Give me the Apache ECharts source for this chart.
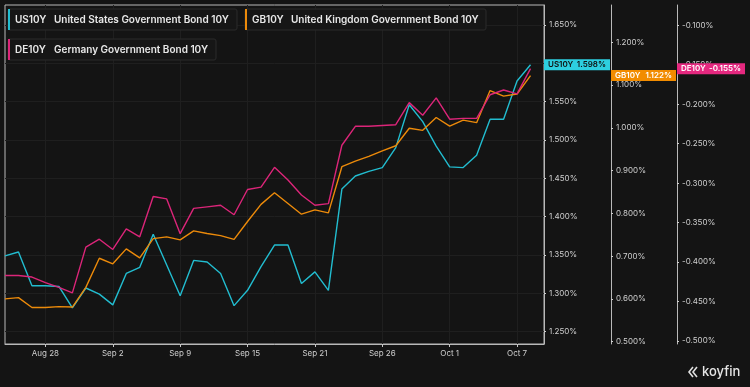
<!DOCTYPE html>
<html>
<head>
<meta charset="utf-8">
<script src="https://cdn.jsdelivr.net/npm/echarts@6/dist/echarts.min.js"></script>
<style>
html,body{margin:0;padding:0;background:#141414;}
#chart{width:750px;height:387px;}
</style>
</head>
<body>
<div id="chart"></div>
<script>
const categories = ['Aug 25','Aug 26','Aug 27','Aug 28','Aug 29','Aug 30','Aug 31','Sep 1','Sep 2','Sep 3',
  'Sep 6','Sep 7','Sep 8','Sep 9','Sep 10','Sep 12','Sep 13','Sep 14','Sep 15','Sep 16',
  'Sep 17','Sep 19','Sep 20','Sep 21','Sep 22','Sep 23','Sep 24','Sep 25','Sep 26','Sep 27',
  'Sep 28','Sep 29','Sep 30','Oct 1','Oct 2','Oct 4','Oct 5','Oct 6','Oct 7','Oct 8','Oct 9'];
const tickLabels = ['Aug 28','Sep 2','Sep 9','Sep 15','Sep 21','Sep 26','Oct 1','Oct 7'];

const us10y = [1.349,1.354,1.310,1.310,1.309,1.281,1.307,1.299,1.285,1.326,
  1.334,1.377,1.337,1.297,1.343,1.341,1.326,1.284,1.304,1.335,
  1.363,1.363,1.313,1.328,1.304,1.436,1.453,1.459,1.464,1.490,
  1.546,1.524,1.492,1.465,1.464,1.480,1.527,1.527,1.577,1.598];
const gb10y = [0.600,0.603,0.580,0.580,0.582,0.581,0.627,0.695,0.682,0.717,
  0.696,0.741,0.745,0.738,0.759,0.753,0.748,0.739,0.781,0.821,
  0.848,0.823,0.798,0.808,0.801,0.909,0.922,0.933,0.946,0.958,
  0.999,0.994,1.024,1.004,1.018,1.012,1.087,1.074,1.079,1.122];
const de10y = [-0.417,-0.417,-0.419,-0.426,-0.432,-0.439,-0.381,-0.371,-0.384,-0.358,
  -0.368,-0.317,-0.320,-0.364,-0.332,-0.330,-0.328,-0.340,-0.308,-0.305,
  -0.280,-0.296,-0.315,-0.328,-0.326,-0.252,-0.228,-0.228,-0.227,-0.226,
  -0.198,-0.214,-0.192,-0.219,-0.218,-0.218,-0.188,-0.182,-0.187,-0.155];

const usTicks = [1.25,1.30,1.35,1.40,1.45,1.50,1.55,1.60,1.65];
const gbTicks = [0.5,0.6,0.7,0.8,0.9,1.0,1.1,1.2];
const deTicks = [-0.5,-0.45,-0.4,-0.35,-0.3,-0.25,-0.2,-0.15,-0.1];

const seriesNames = ['US10Y','GB10Y','DE10Y'];
const seriesTitles = ['United States Government Bond 10Y','United Kingdom Government Bond 10Y','Germany Government Bond 10Y'];
const lineColors = ['#22bdd0','#ec8a0a','#dc2579'];
const badgeColors = ['#2dcfe0','#f28c00','#e5287f'];

const FONT = 'Inter, "Noto Sans", sans-serif';
const showTick = (i) => tickLabels.indexOf(categories[i]) >= 0;
const fmt = (v) => v.toFixed(3) + '%';

function yAx(min, max, ticks, offset, split) {
  return {
    type: 'value', position: 'right', offset: offset, min: min, max: max,
    axisLine: {show: true, lineStyle: {color: '#b9b9b9', width: 1}},
    axisTick: {show: true, length: 2, customValues: ticks, lineStyle: {color: '#d0d0d0'}},
    axisLabel: {show: true, customValues: ticks, formatter: fmt, color: '#cfcfcf',
      fontSize: 8, fontFamily: FONT, margin: 5},
    splitLine: {show: split, lineStyle: {color: '#1f1f1f', width: 1}}
  };
}

const chart = echarts.init(document.getElementById('chart'), null, {renderer: 'canvas'});
const option = {
  backgroundColor: '#141414',
  animation: false,
  grid: {left: 5, right: 206, top: 5, bottom: 43, show: true, borderColor: '#b9b9b9', borderWidth: 1, backgroundColor: 'transparent'},
  xAxis: {
    type: 'category', data: categories, boundaryGap: false,
    axisLine: {show: true, lineStyle: {color: '#b9b9b9'}},
    axisTick: {show: true, interval: (i) => showTick(i), length: 3, lineStyle: {color: '#c8c8c8'}},
    axisLabel: {interval: (i) => showTick(i), color: '#cfcfcf', fontSize: 8, fontFamily: FONT, margin: 6},
    splitLine: {show: true, interval: (i) => showTick(i), lineStyle: {color: '#1f1f1f'}}
  },
  yAxis: [
    yAx(1.234, 1.676, usTicks, 0, true),
    yAx(0.4946, 1.287, gbTicks, 67, false),
    yAx(-0.5038, -0.0743, deTicks, 133, false)
  ],
  series: [
    {name: 'US10Y', type: 'line', yAxisIndex: 0, data: us10y, showSymbol: false, lineStyle: {color: lineColors[0], width: 1.4}, itemStyle: {color: lineColors[0]}},
    {name: 'GB10Y', type: 'line', yAxisIndex: 1, data: gb10y, showSymbol: false, lineStyle: {color: lineColors[1], width: 1.4}, itemStyle: {color: lineColors[1]}},
    {name: 'DE10Y', type: 'line', yAxisIndex: 2, data: de10y, showSymbol: false, lineStyle: {color: lineColors[2], width: 1.4}, itemStyle: {color: lineColors[2]}}
  ]
};
chart.setOption(option);

// legend boxes
const legendBoxes = [
  {x: 8, y: 9, w: 229}, {x: 245, y: 9, w: 241}, {x: 8, y: 39, w: 208}
];
const graphics = [];
legendBoxes.forEach((b, k) => {
  graphics.push({type: 'rect', shape: {x: b.x, y: b.y, width: b.w, height: 21, r: 2},
    style: {fill: '#161616', stroke: '#2a2a2a', lineWidth: 1}, z: 100});
  graphics.push({type: 'rect', shape: {x: b.x, y: b.y, width: 2, height: 21},
    style: {fill: lineColors[k]}, z: 101});
  graphics.push({type: 'text', x: b.x + 7, y: b.y + 10.5, z: 102,
    style: {text: seriesNames[k], fill: '#e8e8e8', font: '600 10px ' + FONT, textVerticalAlign: 'middle'}});
  graphics.push({type: 'text', x: b.x + 46, y: b.y + 10.5, z: 102,
    style: {text: seriesTitles[k], fill: '#e8e8e8', font: '600 10px ' + FONT, textVerticalAlign: 'middle'}});
});

// last value badges on each axis
const lastVals = [us10y[us10y.length - 1], gb10y[gb10y.length - 1], de10y[de10y.length - 1]];
const badgeX = [544, 611, 677];
const badgeW = [66, 65, 68];
const badgeText = ['#111111', '#ffffff', '#ffffff'];
lastVals.forEach((v, k) => {
  const py = chart.convertToPixel({yAxisIndex: k}, v);
  graphics.push({type: 'rect', shape: {x: badgeX[k], y: py - 5.5, width: badgeW[k], height: 11},
    style: {fill: badgeColors[k]}, z: 110});
  graphics.push({type: 'text', x: badgeX[k] + 4, y: py, z: 111,
    style: {text: seriesNames[k], fill: badgeText[k], font: '600 8px ' + FONT, textVerticalAlign: 'middle'}});
  graphics.push({type: 'text', x: badgeX[k] + badgeW[k] - 4, y: py, z: 111,
    style: {text: fmt(v), fill: badgeText[k], font: '600 8px ' + FONT, textAlign: 'right', textVerticalAlign: 'middle'}});
});

// koyfin logo
graphics.push({type: 'polyline', shape: {points: [[693, 367], [689, 372], [693, 377]]}, style: {stroke: '#e0e0e0', lineWidth: 1.6, fill: null}, z: 100});
graphics.push({type: 'polyline', shape: {points: [[697, 367], [693, 372], [697, 377]]}, style: {stroke: '#e0e0e0', lineWidth: 1.6, fill: null}, z: 100});
graphics.push({type: 'text', x: 702, y: 372, z: 100,
  style: {text: 'koyfin', fill: '#e6e6e6', font: '500 13px ' + FONT, textVerticalAlign: 'middle'}});

chart.setOption({graphic: graphics});
</script>
</body>
</html>
